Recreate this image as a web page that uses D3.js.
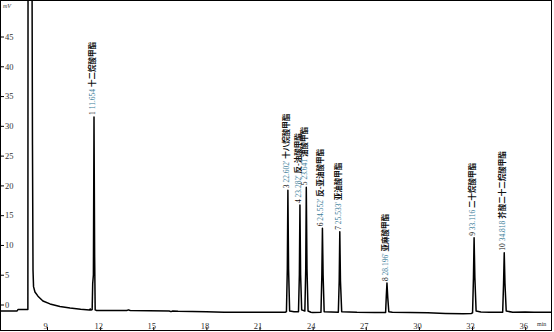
<!DOCTYPE html>
<html>
<head>
<meta charset="utf-8">
<script src="https://cdn.jsdelivr.net/npm/d3@7"></script>
<style>
  body { margin: 0; background: #fff; }
  svg { display: block; }
</style>
</head>
<body>
<script>
// chromatogram trace (min, mV)
const traceT = [6.35, 7.30, 7.36, 7.92, 7.93, 8.15, 8.18, 8.21, 8.24, 8.32, 8.49, 8.77, 9.17, 9.73, 10.30, 10.90, 11.40, 11.44, 11.48, 11.55, 11.58, 11.62, 11.654, 11.69, 11.72, 11.80,
  13.5, 13.6, 13.7, 15.9, 16.0, 16.1, 16.4, 18.0, 19.0, 21.0, 22.45,
  22.52, 22.57, 22.602, 22.64, 22.70, 22.95,
  23.20, 23.25, 23.282, 23.32, 23.38,
  23.56, 23.61, 23.641, 23.68, 23.74, 23.9, 24.0,
  24.47, 24.52, 24.552, 24.59, 24.65,
  25.45, 25.50, 25.533, 25.57, 25.64, 26.5, 27.5,
  28.12, 28.16, 28.196, 28.24, 28.30, 28.5, 29.5, 30.5, 31.5, 32.5, 32.95,
  33.03, 33.08, 33.116, 33.16, 33.23, 33.5, 34.0, 34.6,
  34.73, 34.78, 34.818, 34.86, 34.93, 35.3, 36.0, 36.5, 37.63];
const traceV = [-1.1, -1.1, -0.85, -0.85, 60, 60, 26.8, 5.8, 3.0, 2.1, 1.4, 0.6, 0.1, -0.35, -0.6, -0.8, -0.92, -0.75, -0.95, -0.85, 3.5, 5, 31.5, 8, -0.9, -1.0,
  -1.0, -0.9, -1.0, -1.1, -1.2, -1.1, -1.15, -1.2, -1.3, -1.3, -1.3,
  -1.2, 6, 19.2, 6, -1.1, -1.2,
  -1.2, 5, 16.7, 5, -0.9,
  -1.1, 6, 19.7, 6, -1.1, -1.3, -1.35,
  -1.3, 5, 12.8, 5, -1.2,
  -1.3, 4, 12.2, 4, -1.2, -1.3, -1.35,
  -1.35, 1.5, 3.6, 1.2, -1.2, -1.3, -1.35, -1.4, -1.5, -1.55, -1.5,
  -1.4, 4.5, 11.2, 4.5, -1.1, -1.25, -1.3, -1.3,
  -1.3, 3.5, 8.7, 3.5, -1.1, -1.3, -1.25, -1.3, -1.3];

// peak annotations
const peakNo = ["1", "3", "4", "5", "6", "7", "8", "9", "10"];
const peakRT = [11.654, 22.602, 23.282, 23.641, 24.552, 25.533, 28.196, 33.116, 34.818];
const peakH = [31.5, 19.2, 16.7, 19.7, 12.8, 12.2, 3.6, 11.2, 8.7];
const peakRTText = ["11.654", "22.602'", "23.282'", "23.641", "24.552'", "25.533'", "28.196'", "33.116", "34.818"];
const peakName = ["十二烷酸甲酯", "十八烷酸甲酯", "反-油酸甲酯", "油酸甲酯", "反-亚油酸甲酯", "亚油酸甲酯", "亚麻酸甲酯", "二十烷酸甲酯", "芥酸二十二烷酸甲酯"];

const xTicks = [9, 12, 15, 18, 21, 24, 27, 30, 33, 36];
const yTicks = [0, 5, 10, 15, 20, 25, 30, 35, 40, 45];

const width = 554, height = 332;
const x = d3.scaleLinear().domain([6.346, 37.628]).range([0, 554]);
const y = d3.scaleLinear().domain([-4.28, 51.13]).range([330, 0]);

const svg = d3.select("body").append("svg")
  .attr("width", width).attr("height", height)
  .style("font-family", "'Liberation Serif', 'Noto Sans CJK SC', serif");

svg.append("clipPath").attr("id", "plot")
  .append("rect").attr("x", 0).attr("y", 0).attr("width", 551).attr("height", 330);

// frame
svg.append("rect")
  .attr("x", 0.5).attr("y", 0.5).attr("width", 551).attr("height", 330)
  .attr("fill", "none").attr("stroke", "#000");

// y axis on the left edge, labels inside
const yAxis = svg.append("g")
  .attr("transform", "translate(1,0)")
  .call(d3.axisRight(y).tickValues(yTicks).tickSize(3).tickPadding(1));
yAxis.select(".domain").remove();
yAxis.selectAll("text").attr("font-size", 8.5).attr("fill", "#333").attr("font-family", "'Liberation Serif', serif");

// x axis on the bottom edge, labels inside
const xAxis = svg.append("g")
  .attr("transform", "translate(0,330)")
  .call(d3.axisTop(x).tickValues(xTicks).tickSize(3).tickPadding(-2));
xAxis.select(".domain").remove();
xAxis.selectAll("text").attr("font-size", 8.5).attr("fill", "#333").attr("dx", -2).attr("font-family", "'Liberation Serif', serif");

svg.append("text").attr("x", 3).attr("y", 8).attr("font-size", 6).attr("font-style", "italic").attr("fill", "#333").text("mV");
svg.append("text").attr("x", 537).attr("y", 326).attr("font-size", 6).attr("fill", "#333").text("min");

// trace
const pts = traceT.map((t, i) => [t, traceV[i]]);
const line = d3.line().x(d => x(d[0])).y(d => y(d[1]));
svg.append("path")
  .datum(pts)
  .attr("clip-path", "url(#plot)")
  .attr("fill", "none")
  .attr("stroke", "#000")
  .attr("stroke-width", 1.5)
  .attr("stroke-linejoin", "round")
  .attr("d", line);

// peak labels, rotated, reading upward from the apex
const lab = svg.selectAll("text.peak")
  .data(peakRT)
  .join("text")
  .attr("class", "peak")
  .attr("font-size", 7.5)
  .attr("transform", (d, i) => `translate(${x(d) + 1},${y(peakH[i]) - 2}) rotate(-90)`);
lab.append("tspan").attr("fill", "#111").text((d, i) => peakNo[i] + " ");
lab.append("tspan").attr("fill", "#3d7e9a").text((d, i) => peakRTText[i] + " ");
lab.append("tspan").attr("fill", "#111").attr("font-weight", "bold").attr("font-family", "'Noto Sans CJK SC', sans-serif").text((d, i) => peakName[i]);
</script>
</body>
</html>
